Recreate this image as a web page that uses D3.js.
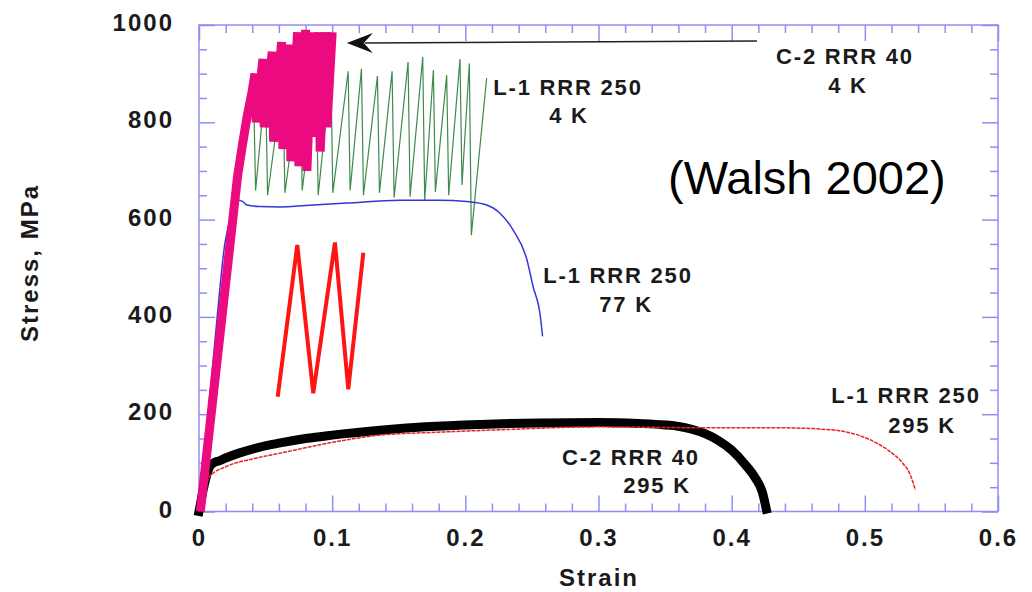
<!DOCTYPE html>
<head>
    <meta charset="utf-8">
    <title>Stress vs strain</title>
    <style>
        body { margin: 0; background: #fff; }
        text { font-family: "Liberation Sans", Arial, sans-serif; }
        .bold { font-weight: bold; fill: #1a1a1a; }
    </style>
</head>
<body>

<svg width="1032" height="592"></svg>

<script src="https://d3js.org/d3.v7.min.js"></script>

<script>

// ---- data ----
var xMajor = [0, 0.1, 0.2, 0.3, 0.4, 0.5, 0.6];
var yMajor = [0, 200, 400, 600, 800, 1000];

// C-2 RRR 40, 295 K (thick black)
var c2RoomStrain = [0, 0.004, 0.008, 0.011, 0.015, 0.02, 0.03, 0.045, 0.061, 0.08, 0.1, 0.136, 0.17, 0.211, 0.256, 0.3, 0.33, 0.35, 0.36, 0.37, 0.38, 0.39, 0.40, 0.41, 0.418, 0.423, 0.426];
var c2RoomStress = [0, 55, 92, 100, 104, 110, 120, 132, 141, 150, 157, 167, 174, 179, 182, 183, 181, 178, 175, 169, 160, 146, 126, 97, 68, 40, 5];

// L-1 RRR 250, 295 K (thin red)
var l1RoomStrain = [0, 0.004, 0.008, 0.02, 0.04, 0.061, 0.1, 0.136, 0.18, 0.226, 0.3, 0.386, 0.436, 0.474, 0.49, 0.50, 0.51, 0.52, 0.528, 0.534, 0.538];
var l1RoomStress = [0, 40, 72, 92, 108, 120, 142, 157, 163, 168, 174, 172, 172, 168, 161, 152, 139, 121, 101, 76, 44];

// L-1 RRR 250, 77 K (blue)
var l177Strain = [0, 0.012, 0.0195, 0.025, 0.03, 0.033, 0.036, 0.045, 0.061, 0.08, 0.111, 0.151, 0.18, 0.201, 0.216, 0.226, 0.236, 0.246, 0.251, 0.256, 0.258];
var l177Stress = [0, 352, 552, 615, 640, 637, 630, 627, 626, 629, 634, 640, 640, 637, 630, 613, 578, 520, 461, 408, 360];

// L-1 RRR 250, 4 K (green serrations)
var l14Strain = [0.002, 0.031, 0.041, 0.0425, 0.050, 0.0515, 0.063, 0.0645, 0.076, 0.0775, 0.088, 0.0895, 0.099, 0.1005, 0.112, 0.1135, 0.122, 0.1235, 0.134, 0.1355, 0.145, 0.1465, 0.157, 0.1585, 0.168, 0.1695, 0.176, 0.1775, 0.186, 0.1875, 0.196, 0.1975, 0.203, 0.2045, 0.216];
var l14Stress = [0, 690, 860, 660, 880, 650, 885, 655, 890, 660, 900, 650, 905, 655, 905, 660, 910, 650, 895, 655, 905, 645, 924, 647, 934, 640, 907, 657, 897, 650, 930, 671, 921, 568, 891];

// C-2 RRR 40, 4 K (thick magenta)
var c24Strain = [0.001, 0.029, 0.033, 0.036, 0.040, 0.042, 0.043, 0.048, 0.049, 0.055, 0.056, 0.062, 0.063, 0.068, 0.069, 0.074, 0.075, 0.080, 0.081, 0.085, 0.086, 0.090, 0.091, 0.095, 0.096, 0.100];
var c24Stress = [0, 690, 760, 810, 865, 900, 800, 930, 790, 945, 760, 965, 745, 960, 720, 985, 710, 990, 700, 985, 770, 985, 740, 985, 790, 985];

// red hand-drawn zigzag
var zigStrain = [0.0591, 0.0738, 0.0858, 0.1021, 0.1121, 0.1234];
var zigStress = [236, 548, 243, 553, 251, 532];

// ---- layout ----
var svg = d3.select('svg');
var frameColor = '#8e8ef2';

var x = d3.scaleLinear().domain([0, 0.6]).range([199, 998]);
var y = d3.scaleLinear().domain([0, 1000]).range([511.5, 25]);

var pts = (xs, ys) => xs.map((d, i) => [d, ys[i]]);
var line = d3.line().x(d => x(d[0])).y(d => y(d[1]));
var smooth = d3.line().x(d => x(d[0])).y(d => y(d[1])).curve(d3.curveMonotoneX);

var minorX = d3.range(0, 0.6001, 0.02).filter(d => Math.abs(d * 10 - Math.round(d * 10)) > 1e-6);
var minorY = d3.range(0, 1001, 50).filter(d => d % 200 !== 0);

// frame
svg.append('rect')
    .attr('x', x(0)).attr('y', y(1000))
    .attr('width', x(0.6) - x(0)).attr('height', y(0) - y(1000))
    .attr('fill', 'none').attr('stroke', frameColor).attr('stroke-width', 1.5);

// inward ticks on all four sides
function ticks(axis, tr, vals, size) {
    var g = svg.append('g')
        .attr('transform', tr)
        .call(axis.tickValues(vals).tickSize(-size).tickSizeOuter(0).tickFormat(''));
    g.select('.domain').remove();
    g.selectAll('line').attr('stroke', frameColor).attr('stroke-width', 1.5);
    return g;
}
ticks(d3.axisBottom(x), `translate(0,${y(0)})`, minorX, 8);
ticks(d3.axisTop(x), `translate(0,${y(1000)})`, minorX, 8);
ticks(d3.axisTop(x), `translate(0,${y(1000)})`, xMajor, 16);
ticks(d3.axisLeft(y), `translate(${x(0)},0)`, minorY, 8);
ticks(d3.axisRight(y), `translate(${x(0.6)},0)`, minorY, 8);
ticks(d3.axisRight(y), `translate(${x(0.6)},0)`, yMajor, 16);

// labelled axes
var xAxis = svg.append('g')
    .attr('transform', `translate(0,${y(0)})`)
    .call(d3.axisBottom(x).tickValues(xMajor).tickSize(-16).tickSizeOuter(0).tickPadding(17)
        .tickFormat(d => d === 0 ? '0' : d3.format('.1f')(d)));
var yAxis = svg.append('g')
    .attr('transform', `translate(${x(0)},0)`)
    .call(d3.axisLeft(y).tickValues(yMajor).tickSize(-16).tickSizeOuter(0).tickPadding(25)
        .tickFormat(d3.format('d')));

[xAxis, yAxis].forEach(g => {
    g.select('.domain').remove();
    g.selectAll('line').attr('stroke', frameColor).attr('stroke-width', 1.5);
    g.selectAll('text')
        .attr('class', 'bold')
        .style('font-size', '24px')
        .style('letter-spacing', '2px')
        .attr('fill', '#1a1a1a');
});
yAxis.selectAll('text').attr('dy', '0.23em');

svg.append('text').attr('class', 'bold')
    .attr('x', 599).attr('y', 586)
    .attr('text-anchor', 'middle')
    .style('font-size', '24px').style('letter-spacing', '2px')
    .text('Strain');

svg.append('text').attr('class', 'bold')
    .attr('transform', 'translate(38,263) rotate(-90)')
    .attr('text-anchor', 'middle')
    .style('font-size', '24px').style('letter-spacing', '2px')
    .text('Stress, MPa');

// ---- curves ----
svg.append('path')
    .attr('d', smooth(pts(c2RoomStrain, c2RoomStress)))
    .attr('fill', 'none').attr('stroke', '#000').attr('stroke-width', 9)
    .attr('stroke-linecap', 'square').attr('stroke-linejoin', 'round');

svg.append('path')
    .attr('d', smooth(pts(l1RoomStrain, l1RoomStress)))
    .attr('fill', 'none').attr('stroke', '#e82323').attr('stroke-width', 1.5)
    .attr('stroke-dasharray', '4,1');

svg.append('path')
    .attr('d', line(pts(l14Strain, l14Stress)))
    .attr('fill', 'none').attr('stroke', '#3d8a4c').attr('stroke-width', 1.2);

svg.append('path')
    .attr('d', smooth(pts(l177Strain, l177Stress)))
    .attr('fill', 'none').attr('stroke', '#3535dc').attr('stroke-width', 1.5);

svg.append('path')
    .attr('d', line(pts(c24Strain, c24Stress)))
    .attr('fill', 'none').attr('stroke', '#ec0a80').attr('stroke-width', 9)
    .attr('stroke-linejoin', 'miter').attr('stroke-miterlimit', 2);

svg.append('path')
    .attr('d', line(pts(zigStrain, zigStress)))
    .attr('fill', 'none').attr('stroke', '#ff1414').attr('stroke-width', 4)
    .attr('stroke-linejoin', 'miter');

// arrow pointing at the C-2 4 K curve
var ax0 = x(0.419), ay0 = y(967), ax1 = x(0.111), ay1 = y(963);
svg.append('line')
    .attr('x1', ax0).attr('y1', ay0).attr('x2', ax1 + 18).attr('y2', ay1)
    .attr('stroke', '#222').attr('stroke-width', 1.5);
svg.append('path')
    .attr('d', `M${ax1},${ay1} L${ax1 + 26},${ay1 - 10} L${ax1 + 17},${ay1} L${ax1 + 26},${ay1 + 10} Z`)
    .attr('fill', '#111');

// ---- curve labels ----
var labels = [
    ['C-2 RRR 40', 845, 64], ['4 K', 848, 93],
    ['L-1 RRR 250', 568, 95], ['4 K', 569, 123],
    ['L-1 RRR 250', 618, 283], ['77 K', 626, 312],
    ['C-2 RRR 40', 631, 465], ['295 K', 657, 493],
    ['L-1 RRR 250', 906, 403], ['295 K', 922, 433]
];
svg.selectAll('.lab')
    .data(labels)
    .enter().append('text')
        .attr('class', 'bold lab')
        .attr('x', d => d[1]).attr('y', d => d[2])
        .attr('text-anchor', 'middle')
        .style('font-size', '22px').style('letter-spacing', '1.8px')
        .text(d => d[0]);

svg.append('text')
    .attr('x', 668).attr('y', 194)
    .style('font-size', '47px').attr('fill', '#000')
    .text('(Walsh 2002)');

</script>

</body>
